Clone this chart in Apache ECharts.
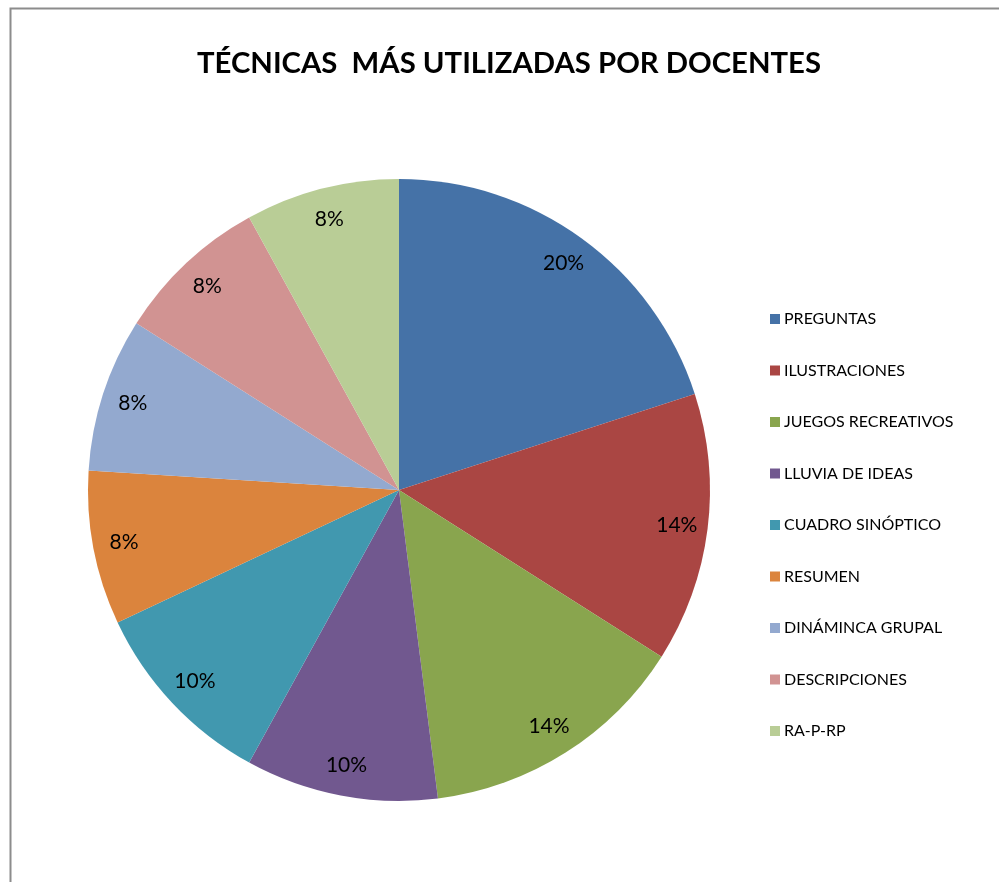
<!DOCTYPE html>
<html>
<head>
<meta charset="UTF-8">
<title>Técnicas más utilizadas por docentes</title>
<script src="https://cdn.jsdelivr.net/npm/echarts@6/dist/echarts.min.js"></script>
<style type="text/css">
body{margin:0;padding:0;background:#fff;}
#main{width:999px;height:882px;}
</style>
</head>
<body>
<div id="main"></div>
<script type="text/javascript">
// datos
var tecnicas = ['PREGUNTAS', 'ILUSTRACIONES', 'JUEGOS RECREATIVOS', 'LLUVIA DE IDEAS',
    'CUADRO SINÓPTICO', 'RESUMEN', 'DINÁMINCA GRUPAL', 'DESCRIPCIONES', 'RA-P-RP'];
var porcentajes = [20, 14, 14, 10, 10, 8, 8, 8, 8];
var colores = ['#4572A7', '#AA4643', '#89A54E', '#71588F', '#4198AF',
    '#DB843D', '#93A9CF', '#D19392', '#B9CD96'];

var datos = tecnicas.map(function (t, i) {
    return { name: t, value: porcentajes[i] };
});

var myChart = echarts.init(document.getElementById('main'));
myChart.setOption({
    animation: false,
    color: colores,
    textStyle: { fontFamily: 'Lato' },
    title: {
        text: 'TÉCNICAS  MÁS UTILIZADAS POR DOCENTES',
        left: 504,
        textAlign: 'center',
        top: 44,
        textStyle: { fontFamily: 'Lato', fontSize: 29.3, fontWeight: 'bold', color: '#000' }
    },
    graphic: [{
        type: 'polyline',
        shape: { points: [[10.5, 900], [10.5, 8.5], [1010, 8.5]] },
        style: { stroke: '#8c8c8c', lineWidth: 2, fill: null },
        silent: true
    }],
    legend: {
        orient: 'vertical',
        left: 765,
        top: 306,
        itemWidth: 10,
        itemHeight: 10,
        itemGap: 35.5,
        icon: 'rect',
        data: tecnicas,
        textStyle: { fontFamily: 'Lato', fontSize: 16, lineHeight: 16, color: '#000', padding: [0, 0, 0, -1] }
    },
    series: [{
        type: 'pie',
        center: [399, 490],
        radius: [0, 311],
        startAngle: 90,
        clockwise: true,
        label: { show: false },
        labelLine: { show: false },
        emphasis: { disabled: true },
        data: datos
    }, {
        // anillo invisible solo para colocar las etiquetas cerca del borde
        type: 'pie',
        center: [399, 490],
        radius: [243, 311],
        startAngle: 90,
        clockwise: true,
        silent: true,
        itemStyle: { color: 'rgba(0,0,0,0)' },
        label: {
            show: true,
            position: 'inside',
            formatter: '{c}%',
            fontFamily: 'Lato',
            fontSize: 21,
            color: '#000'
        },
        labelLine: { show: false },
        data: datos
    }]
});
</script>
</body>
</html>
